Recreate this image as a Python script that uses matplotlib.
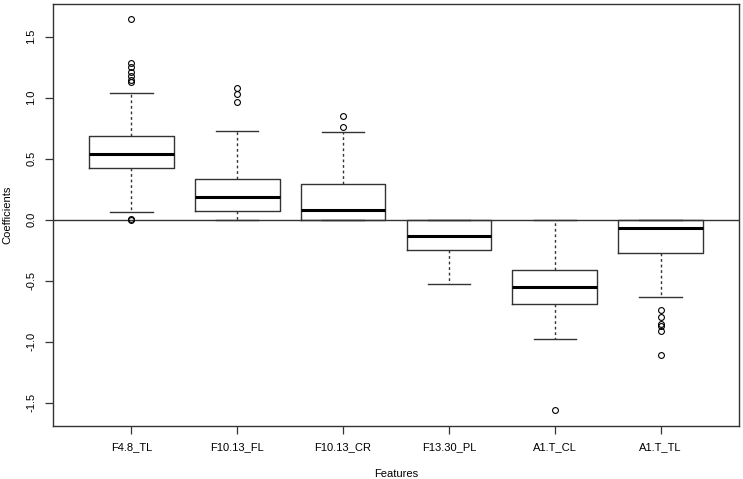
import matplotlib
matplotlib.use("Agg")
import matplotlib.pyplot as plt

plt.rcParams["font.family"] = ["Liberation Sans", "DejaVu Sans"]

# box statistics
features = ["F4.8_TL", "F10.13_FL", "F10.13_CR", "F13.30_PL", "A1.T_CL", "A1.T_TL"]
q1 = [0.426, 0.069, 0.0, -0.246, -0.689, -0.273]
median = [0.541, 0.186, 0.077, -0.136, -0.554, -0.065]
q3 = [0.686, 0.334, 0.293, 0.0, -0.415, 0.0]
whisker_lo = [0.066, 0.0, 0.0, -0.525, -0.978, -0.636]
whisker_hi = [1.041, 0.730, 0.716, 0.0, 0.0, 0.0]
outliers = [
    [1.643, 1.282, 1.249, 1.213, 1.180, 1.145, 1.126, 0.005, -0.002],
    [1.080, 1.028, 0.962],
    [0.850, 0.762],
    [],
    [-1.560],
    [-0.738, -0.798, -0.855, -0.875, -0.910, -1.110],
]

stats = []
for i, name in enumerate(features):
    stats.append({
        "label": name,
        "q1": q1[i], "med": median[i], "q3": q3[i],
        "whislo": whisker_lo[i], "whishi": whisker_hi[i],
        "fliers": outliers[i],
    })

fig = plt.figure(figsize=(7.43, 4.79), dpi=100)
ax = fig.add_axes([53 / 743, 1 - 425.7 / 479, (739 - 53) / 743, (425.7 - 4) / 479])

line_col = "#333333"
ax.bxp(
    stats,
    widths=0.8,
    showfliers=True,
    boxprops=dict(color=line_col, linewidth=1.0),
    medianprops=dict(color="black", linewidth=2.2, solid_capstyle="butt"),
    whiskerprops=dict(color=line_col, linewidth=1.0, linestyle=(0, (2, 2))),
    capprops=dict(color=line_col, linewidth=1.0),
    capwidths=0.4,
    flierprops=dict(marker="o", markerfacecolor="none", markeredgecolor="black",
                    markersize=4.2, markeredgewidth=0.8),
)

ax.axhline(0, color=line_col, linewidth=1.0, zorder=0)

ax.set_xlim(0.26, 6.74)
ax.set_ylim(-1.689, 1.768)
ax.set_yticks([-1.5, -1.0, -0.5, 0.0, 0.5, 1.0, 1.5])
ax.set_yticklabels(["-1.5", "-1.0", "-0.5", "0.0", "0.5", "1.0", "1.5"],
                   rotation=90, va="center")
ax.tick_params(axis="both", labelsize=8, length=6, width=0.9, color=line_col, pad=6)

for sp in ax.spines.values():
    sp.set_color(line_col)
    sp.set_linewidth(1.0)

ax.set_xlabel("Features", fontsize=8, labelpad=12)
ax.set_ylabel("Coefficients", fontsize=8, labelpad=10)

fig.savefig("out.png", dpi=100)
